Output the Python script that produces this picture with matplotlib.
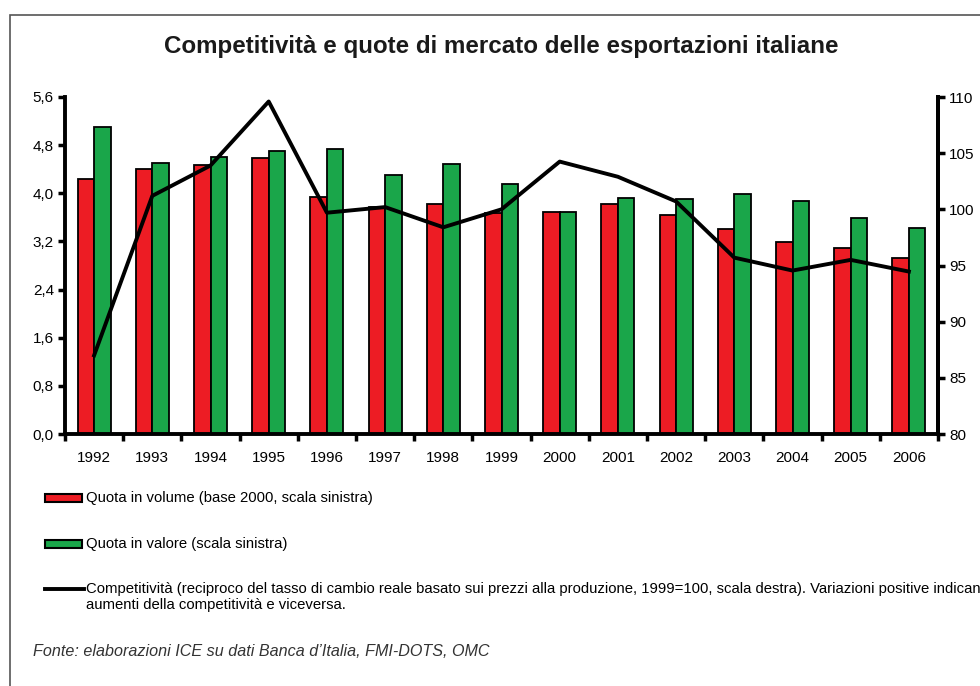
import matplotlib
matplotlib.use("Agg")
import matplotlib.pyplot as plt
from matplotlib.patches import Rectangle
from matplotlib.lines import Line2D
import numpy as np

plt.rcParams['font.family'] = ['Liberation Sans', 'DejaVu Sans']

years = ["1992", "1993", "1994", "1995", "1996", "1997", "1998", "1999",
         "2000", "2001", "2002", "2003", "2004", "2005", "2006"]
quota_volume = [4.23, 4.40, 4.47, 4.58, 3.94, 3.78, 3.82, 3.67,
                3.69, 3.83, 3.64, 3.40, 3.19, 3.09, 2.92]
quota_valore = [5.10, 4.50, 4.60, 4.70, 4.73, 4.30, 4.49, 4.15,
                3.69, 3.92, 3.91, 3.99, 3.87, 3.59, 3.42]
competitivita = [87.0, 101.2, 103.9, 109.6, 99.7, 100.2, 98.4, 100.0,
                 104.25, 102.9, 100.7, 95.7, 94.55, 95.5, 94.46]

left_ticks = [0.0, 0.8, 1.6, 2.4, 3.2, 4.0, 4.8, 5.6]
right_ticks = [80, 85, 90, 95, 100, 105, 110]

red = "#ed1c24"
green = "#1aa64a"

W, H = 980, 686
fig = plt.figure(figsize=(W / 100, H / 100), dpi=100)

# cornice grigia
fig.patches.append(Rectangle((10 / W, -0.01), 1.0, 1 - 15 / H + 0.01,
                             transform=fig.transFigure, fill=False,
                             edgecolor="#555555", linewidth=1.2))

ax = fig.add_axes([65 / W, (H - 434) / H, 873 / W, 337 / H])
x = np.arange(len(years))
bw = 0.285
ax.bar(x - bw / 2, quota_volume, bw, color=red, edgecolor="black", linewidth=1.3, zorder=2)
ax.bar(x + bw / 2, quota_valore, bw, color=green, edgecolor="black", linewidth=1.3, zorder=2)
ax.set_xlim(-0.5, len(years) - 0.5)
ax.set_ylim(0, 5.6)
ax.set_yticks(left_ticks)
ax.set_yticklabels([f"{v:.1f}".replace(".", ",") for v in left_ticks], fontsize=11)

# tacche ai confini delle categorie, etichette al centro
ax.set_xticks(np.arange(len(years) + 1) - 0.5)
ax.set_xticklabels([])
ax.set_xticks(x, minor=True)
ax.set_xticklabels(years, minor=True, fontsize=11)
ax.tick_params(axis="x", which="major", length=5, width=2.5, direction="out")
ax.tick_params(axis="x", which="minor", length=0, pad=12)
ax.tick_params(axis="y", length=5, width=2.5, direction="out", pad=3)

for s in ["left", "bottom", "right"]:
    ax.spines[s].set_linewidth(2.8)
ax.spines["top"].set_visible(False)

ax2 = ax.twinx()
ax2.plot(x, competitivita, color="black", linewidth=2.8, zorder=3)
ax2.set_ylim(80, 110)
ax2.set_yticks(right_ticks)
ax2.set_yticklabels([str(v) for v in right_ticks], fontsize=11)
ax2.tick_params(axis="y", length=5, width=2.5, direction="out", pad=3)
for s in ["left", "bottom", "top"]:
    ax2.spines[s].set_visible(False)
ax2.spines["right"].set_linewidth(2.8)

fig.text(501 / W, 1 - 46 / H, "Competitività e quote di mercato delle esportazioni italiane",
         ha="center", va="center", fontsize=17.4, fontweight="bold", color="#1a1a1a")

# legenda manuale
fs = 10.7
def key_patch(y, color):
    fig.patches.append(Rectangle((45 / W, 1 - (y + 4) / H), 37 / W, 8 / H,
                                 transform=fig.transFigure, facecolor=color,
                                 edgecolor="black", linewidth=1.5))

key_patch(498, red)
fig.text(86 / W, 1 - 498 / H, "Quota in volume (base 2000, scala sinistra)",
         ha="left", va="center", fontsize=fs)
key_patch(544, green)
fig.text(86 / W, 1 - 544 / H, "Quota in valore (scala sinistra)",
         ha="left", va="center", fontsize=fs)
fig.lines.append(Line2D([45 / W, 84 / W], [1 - 589 / H, 1 - 589 / H],
                        transform=fig.transFigure, color="black", linewidth=2.8))
fig.text(86 / W, 1 - 589 / H,
         "Competitività (reciproco del tasso di cambio reale basato sui prezzi alla produzione, "
         "1999=100, scala destra). Variazioni positive indicano",
         ha="left", va="center", fontsize=fs)
fig.text(86 / W, 1 - 605 / H, "aumenti della competitività e viceversa.",
         ha="left", va="center", fontsize=fs)

fig.text(33 / W, 1 - 652 / H, "Fonte: elaborazioni ICE su dati Banca d’Italia, FMI-DOTS, OMC",
         ha="left", va="center", fontsize=11.6, style="italic", color="#333333")

fig.savefig("out.png", dpi=100)
